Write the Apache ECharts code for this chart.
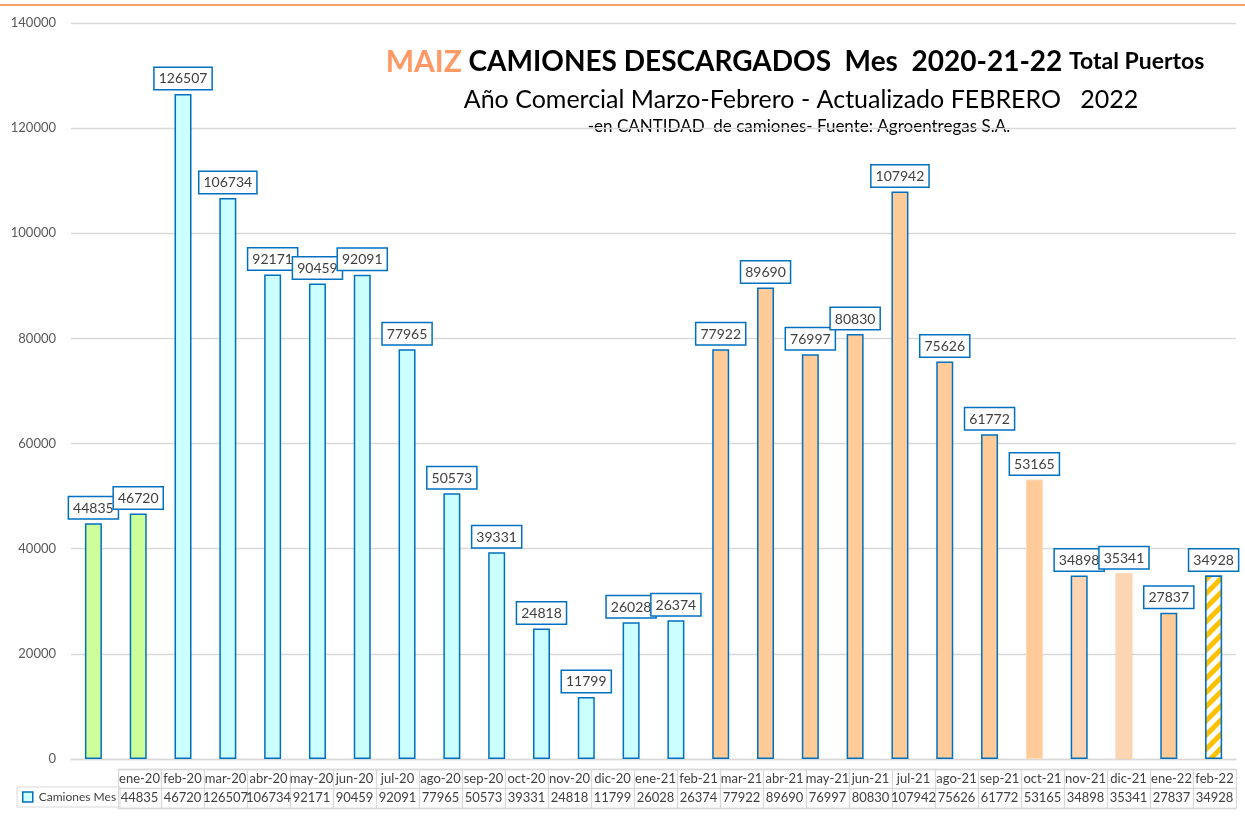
<!DOCTYPE html>
<html>
<head>
<meta charset="utf-8">
<style>
  html, body { margin: 0; padding: 0; background: #fff; }
  #chart { width: 1245px; height: 822px; }
</style>
<script src="https://cdn.jsdelivr.net/npm/echarts@6/dist/echarts.min.js"></script>
</head>
<body>
<div id="chart"></div>
<script>
// meses del año comercial
const months = ['ene-20', 'feb-20', 'mar-20', 'abr-20', 'may-20', 'jun-20', 'jul-20', 'ago-20', 'sep-20',
  'oct-20', 'nov-20', 'dic-20', 'ene-21', 'feb-21', 'mar-21', 'abr-21', 'may-21', 'jun-21', 'jul-21',
  'ago-21', 'sep-21', 'oct-21', 'nov-21', 'dic-21', 'ene-22', 'feb-22'];

// camiones descargados por mes
const camiones = [44835, 46720, 126507, 106734, 92171, 90459, 92091, 77965, 50573, 39331, 24818, 11799,
  26028, 26374, 77922, 89690, 76997, 80830, 107942, 75626, 61772, 53165, 34898, 35341, 27837, 34928];

const yTicks = { min: 0, max: 140000, step: 20000 };

const BLUE = '#0070C0';
const GRID = '#d9d9d9';
const FONT = 'Lato, "Noto Sans", sans-serif';

// estilo de cada barra (según campaña)
const styleFor = (i) => {
  const m = months[i];
  if (i < 2) return { color: '#CCFF99', borderColor: BLUE, borderWidth: 1.5 };
  if (i < 14) return { color: '#CCFFFF', borderColor: BLUE, borderWidth: 1.5 };
  if (m === 'oct-21') return { color: '#FFCC99', borderColor: '#FFD9B8', borderWidth: 1 };
  if (m === 'nov-21') return { color: '#FCD5B4', borderColor: BLUE, borderWidth: 1.5 };
  if (m === 'dic-21') return { color: '#FCD5B4', borderColor: '#FFD0A8', borderWidth: 1 };
  if (m === 'feb-22') return {
    color: '#ffffff', borderColor: BLUE, borderWidth: 1.5,
    decal: { symbol: 'rect', symbolSize: 1, dashArrayX: [1, 0], dashArrayY: [5, 5], rotation: -Math.PI / 4, color: '#FFC000', backgroundColor: '#ffffff' }
  };
  return { color: '#FFCC99', borderColor: BLUE, borderWidth: 1.5 };
};

const chart = echarts.init(document.getElementById('chart'));

chart.setOption({
  backgroundColor: '#fff',
  animation: false,
  textStyle: { fontFamily: FONT },
  legend: {
    left: 17, top: 787,
    data: ['Camiones Mes'],
    icon: 'rect',
    itemWidth: 10, itemHeight: 10, itemGap: 3,
    padding: [4, 4, 4, 5],
    borderColor: GRID, borderWidth: 1,
    itemStyle: { color: '#CCFFFF', borderColor: BLUE, borderWidth: 1.5 },
    textStyle: { color: '#404040', fontSize: 12, fontFamily: FONT, padding: [0, 0, 0, 1] }
  },
  graphic: [
    { type: 'line', shape: { x1: 0, y1: 5, x2: 1245, y2: 5 }, style: { stroke: '#F9A26C', lineWidth: 2 }, silent: true },
    {
      type: 'text', x: 795, y: 62,
      style: {
        text: '{a|MAIZ}  {b|CAMIONES DESCARGADOS  Mes  2020-21-22}  {c|Total Puertos}',
        textAlign: 'center', textVerticalAlign: 'middle',
        rich: {
          a: { fontSize: 30, fontWeight: 'bold', fill: '#FF9966', fontFamily: FONT },
          b: { fontSize: 28, fontWeight: 'bold', fill: '#000', fontFamily: FONT },
          c: { fontSize: 23, fontWeight: 'bold', fill: '#000', fontFamily: FONT }
        }
      }
    },
    {
      type: 'text', x: 801, y: 100,
      style: { text: 'Año Comercial Marzo-Febrero - Actualizado FEBRERO   2022', textAlign: 'center', textVerticalAlign: 'middle', fontSize: 25, fill: '#000', fontFamily: FONT }
    },
    {
      type: 'text', x: 799, y: 127,
      style: { text: '-en CANTIDAD  de camiones- Fuente: Agroentregas S.A.', textAlign: 'center', textVerticalAlign: 'middle', fontSize: 17, fill: '#000', fontFamily: FONT }
    }
  ],
  grid: [
    { left: 71, right: 9, top: 23, bottom: 63 },
    { left: 118, right: 9, top: 769, height: 39 }
  ],
  xAxis: [
    {
      type: 'category', gridIndex: 0, data: months,
      axisLine: { lineStyle: { color: GRID, width: 1.3 } },
      axisTick: { show: false },
      axisLabel: { show: false }
    },
    {
      type: 'category', gridIndex: 1, data: months, position: 'top',
      axisLine: { lineStyle: { color: GRID, width: 1.3 } },
      axisTick: { show: false },
      axisLabel: { inside: true, margin: 3, interval: 0, color: '#404040', fontSize: 13, fontFamily: FONT, verticalAlign: 'top' },
      splitLine: { show: true, interval: 0, lineStyle: { color: GRID, width: 1.3 } }
    },
    {
      type: 'category', gridIndex: 1, data: months, position: 'bottom',
      axisLine: { lineStyle: { color: GRID, width: 1.3 } },
      axisTick: { show: false },
      axisLabel: {
        inside: true, margin: 4, interval: 0, color: '#404040', fontSize: 13, fontFamily: FONT, verticalAlign: 'bottom',
        formatter: (v, i) => String(camiones[i])
      }
    }
  ],
  yAxis: [
    {
      type: 'value', gridIndex: 0, min: yTicks.min, max: yTicks.max, interval: yTicks.step,
      axisLine: { show: false }, axisTick: { show: false },
      axisLabel: { color: '#595959', fontSize: 13, margin: 15, fontFamily: FONT, formatter: (v) => String(v) },
      splitLine: { lineStyle: { color: GRID, width: 1.3 } }
    },
    {
      type: 'value', gridIndex: 1, min: 0, max: 2, interval: 1, inverse: true,
      axisLine: { show: false }, axisTick: { show: false }, axisLabel: { show: false },
      splitLine: { lineStyle: { color: GRID, width: 1.3 } }
    }
  ],
  series: [{
    name: 'Camiones Mes',
    type: 'bar',
    xAxisIndex: 0, yAxisIndex: 0,
    barWidth: 17,
    itemStyle: { color: '#CCFFFF', borderColor: BLUE, borderWidth: 1.5 },
    label: {
      show: true, position: 'top', distance: 5,
      color: '#404040', fontSize: 14, fontFamily: FONT,
      backgroundColor: '#fff', borderColor: BLUE, borderWidth: 1.5,
      padding: [4, 4, 3, 4]
    },
    data: camiones.map((v, i) => ({ value: v, itemStyle: styleFor(i) }))
  }]
});
</script>
</body>
</html>
